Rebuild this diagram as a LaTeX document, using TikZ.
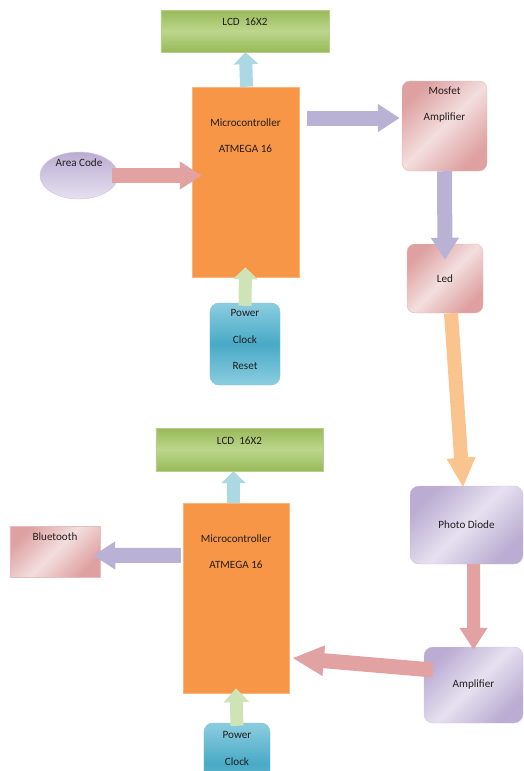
\documentclass[tikz,border=0pt]{standalone}
\usepackage{fontspec}
\setmainfont{Carlito}
\usetikzlibrary{arrows.meta, positioning, shapes.geometric, calc}
\definecolor{lcdG}{RGB}{152,186,88}
\definecolor{lcdGL}{RGB}{188,214,140}
\definecolor{mcO}{RGB}{247,150,70}
\definecolor{pinkD}{RGB}{222,160,160}
\definecolor{pinkL}{RGB}{243,222,222}
\definecolor{lavD}{RGB}{186,172,210}
\definecolor{lavL}{RGB}{230,225,240}
\definecolor{aquaD}{RGB}{72,170,198}
\definecolor{aquaL}{RGB}{140,205,224}
\definecolor{arrBlue}{RGB}{172,216,228}
\definecolor{arrGreen}{RGB}{206,228,182}
\definecolor{arrLav}{RGB}{186,178,213}
\definecolor{arrPink}{RGB}{226,162,162}
\definecolor{arrOrange}{RGB}{250,196,142}
\definecolor{txt}{RGB}{35,28,28}
\tikzset{
    lcd/.style={rectangle, inner sep=0pt, draw=lcdG!70!white, top color=lcdG, bottom color=lcdG, middle color=lcdGL},
    mcu/.style={rectangle, inner sep=0pt, draw=mcO!70!white, fill=mcO},
    pinkbox/.style={rectangle, rounded corners=0.24cm, inner sep=0pt, draw=pinkD!70!white, left color=pinkD, right color=pinkD, middle color=pinkL, shading angle=45},
    lavbox/.style={rectangle, rounded corners=0.27cm, inner sep=0pt, draw=lavD!70!white, left color=lavD, right color=lavD, middle color=lavL, shading angle=45},
    supply/.style={rectangle, rounded corners=0.27cm, inner sep=0pt, draw=aquaD!70!white, top color=aquaL, bottom color=aquaL, middle color=aquaD},
    fatarrow/.style={line width=0.45cm, -{Triangle[length=0.66cm, width=0.8cm]}},
    thinarrow/.style={line width=0.39cm, -{Triangle[length=0.36cm, width=0.72cm]}}
}
\begin{document}
\begin{tikzpicture}[x=0.03cm, y=-0.03cm, font=\fontsize{9.5}{11.5}\selectfont,
    every node/.style={text=txt},
    every label/.style={text=txt, align=center, anchor=center, inner sep=0pt}
]
    \useasboundingbox (0,0) rectangle (523,771);
    \clip (0,0) rectangle (523,771);

    % upper (transmitter) side
    \node[lcd, minimum width=5.04cm, minimum height=1.26cm, label={[yshift=-0.36cm]north:LCD\ \ 16X2}] (lcdA) at (245,31) {};
    \node[mcu, minimum width=3.21cm, minimum height=5.7cm, label={[yshift=-1.47cm]north:Microcontroller\\[11pt]ATMEGA 16}] (mcA) at (245.5,182) {};
    \node[pinkbox, minimum width=2.55cm, minimum height=2.7cm, label={[yshift=-0.72cm]north:Mosfet\\[11pt]Amplifier}] (mosfet) at (444.5,126) {};
    \node[ellipse, inner sep=0pt, draw=lavD!70!white, top color=lavD, bottom color=lavL, minimum width=2.34cm, minimum height=1.41cm, label={[yshift=-0.33cm]north:Area Code}] (areaCode) at (79,175.5) {};
    \node[pinkbox, minimum width=2.28cm, minimum height=2.07cm] (led) at (445,278.5) {Led};
    \node[supply, minimum width=2.1cm, minimum height=2.46cm, label={[yshift=-1.11cm]north:Power\\[11pt]Clock\\[11pt]Reset}] (powerA) at (245,344) {};

    % lower (receiver) side
    \node[lcd, minimum width=5.01cm, minimum height=1.29cm, label={[yshift=-0.39cm]north:LCD\ \ 16X2}] (lcdB) at (239.5,449.5) {};
    \node[mcu, minimum width=3.18cm, minimum height=5.7cm, label={[yshift=-1.47cm]north:Microcontroller\\[11pt]ATMEGA 16}] (mcB) at (236,598) {};
    \node[rectangle, inner sep=0pt, draw=pinkD!70!white, left color=pinkD, right color=pinkD, middle color=pinkL, shading angle=45, minimum width=2.7cm, minimum height=1.53cm, label={[yshift=-0.33cm]north:Bluetooth}] (bt) at (55,551.5) {};
    \node[lavbox, minimum width=3.39cm, minimum height=2.34cm] (pd) at (466.5,525) {Photo Diode};
    \node[lavbox, minimum width=2.97cm, minimum height=2.28cm] (amp) at (473.5,685) {Amplifier};
    \node[supply, minimum width=1.98cm, minimum height=2.46cm, label={[yshift=-0.77cm]north:Power\\[11pt]Clock}] (powerB) at (237,764) {};

    % block arrows
    \draw[thinarrow, draw=arrBlue] ([xshift=0.03cm]mcA.north) -- (mcA.north |- lcdA.south);
    \draw[thinarrow, draw=arrGreen] ([yshift=-0.09cm]powerA.north) -- ([yshift=0.3cm]mcA.south);
    \draw[fatarrow, draw=arrLav] ([xshift=0.24cm, yshift=0.24cm]mcA.east |- mosfet.west) -- ([xshift=-0.06cm, yshift=0.24cm]mosfet.west);
    \draw[fatarrow, draw=arrPink] ([xshift=-0.18cm]areaCode.east) -- ([xshift=0.3cm]mcA.west |- areaCode.east);
    \draw[fatarrow, draw=arrLav] (mosfet.south) -- ([yshift=-0.48cm]led.north);
    \draw[fatarrow, line width=0.42cm, -{Triangle[length=0.9cm, width=0.8cm]}, draw=arrOrange] ([xshift=0.18cm]led.south) -- ([xshift=-0.1cm, yshift=-0.06cm]pd.north);
    \draw[fatarrow, line width=0.39cm, draw=arrPink] ([xshift=0.21cm]pd.south) -- ([yshift=-0.09cm]amp.north);
    \draw[fatarrow, draw=arrPink, -{Triangle[length=0.95cm, width=0.85cm]}] ([xshift=0.27cm, yshift=0.45cm]amp.west) -- ([xshift=0.09cm, yshift=-1.8cm]mcB.east);
    \draw[thinarrow, draw=arrBlue] ([xshift=-0.075cm]mcB.north) -- ([xshift=-0.18cm]lcdB.south);
    \draw[thinarrow, draw=arrGreen, -{Triangle[length=0.42cm, width=0.75cm]}] ([yshift=-0.09cm]powerB.north) -- ([yshift=0.15cm]mcB.south);
    \draw[fatarrow, draw=arrLav] ([xshift=-0.06cm, yshift=1.28cm]mcB.west) -- ([xshift=-0.21cm, yshift=-0.12cm]bt.east);
\end{tikzpicture}
\end{document}
